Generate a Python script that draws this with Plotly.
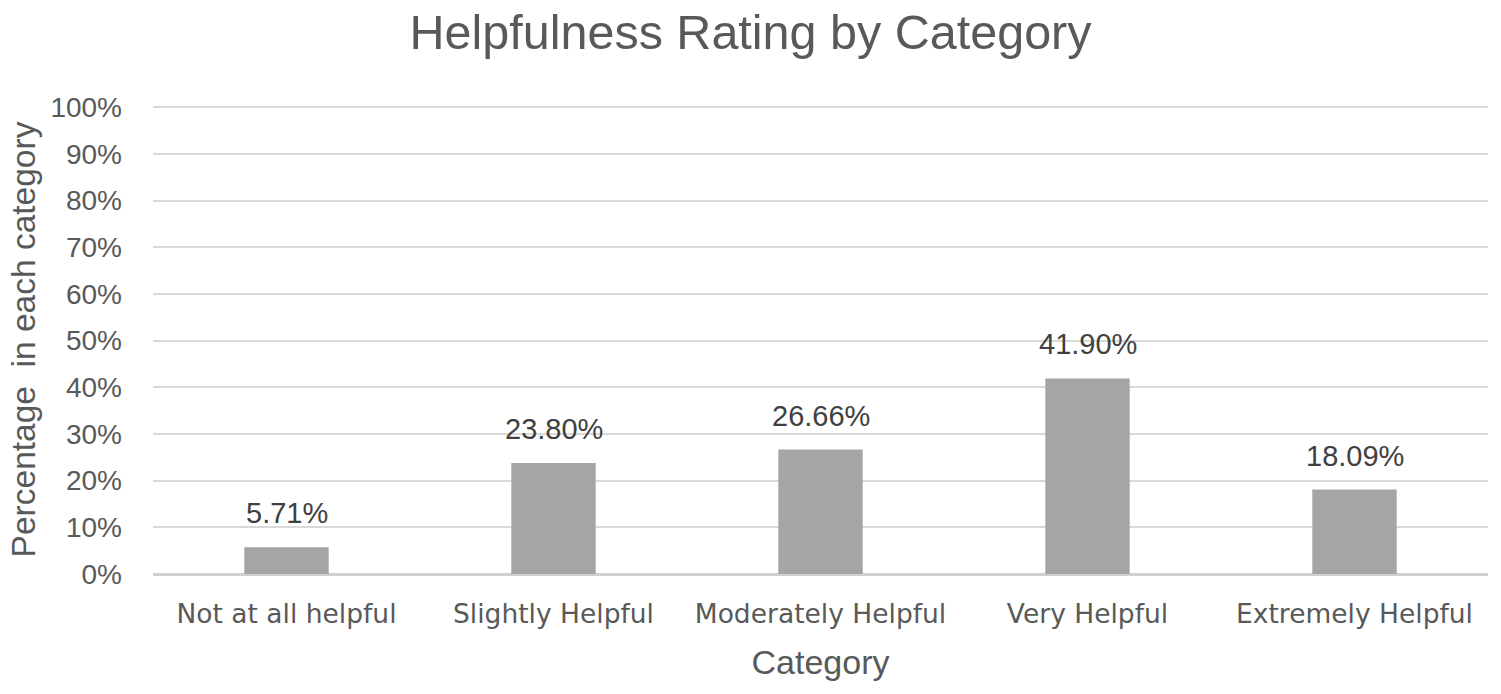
import plotly.graph_objects as go

categories = ["Not at all helpful", "Slightly Helpful", "Moderately Helpful", "Very Helpful", "Extremely Helpful"]
values = [5.71, 23.80, 26.66, 41.90, 18.09]
labels = ["5.71%", "23.80%", "26.66%", "41.90%", "18.09%"]
y_ticks = list(range(0, 101, 10))
y_tick_text = [f"{v}%" for v in y_ticks]

fig = go.Figure()
fig.add_trace(go.Bar(
    x=categories, y=values,
    marker=dict(color="#a5a5a5", line=dict(width=0)),
    hoverinfo="skip",
))

for c, v, t in zip(categories, values, labels):
    fig.add_annotation(x=c, y=v, text=t, showarrow=False, yanchor="middle", yshift=34,
                       font=dict(family="Liberation Sans", size=29, color="#404040"))

fig.update_layout(
    template="none",
    width=1501, height=694,
    paper_bgcolor="white", plot_bgcolor="white",
    margin=dict(l=153, r=13, t=105, b=120),
    bargap=0.684,
    showlegend=False,
    title=dict(text="Helpfulness Rating by Category", x=0.5, xanchor="center",
               y=1 - 32 / 694, yanchor="middle",
               font=dict(family="Liberation Sans", size=48.5, color="#595959")),
    font=dict(family="Liberation Sans", color="#595959"),
)
fig.update_yaxes(
    range=[0, 100.5], tickvals=y_ticks, ticktext=y_tick_text,
    showgrid=True, gridcolor="#d9d9d9", gridwidth=1.5,
    zeroline=True, zerolinecolor="#d0d0d0", zerolinewidth=1.5,
    showline=False, ticks="", ticklabelstandoff=30, automargin=False,
    tickfont=dict(family="Liberation Sans", size=28, color="#595959"),
    title=dict(text="Percentage  in each category",
               font=dict(family="Liberation Sans", size=33.5, color="#595959"), standoff=4),
)
fig.update_xaxes(
    showgrid=False, showline=True, linecolor="#d0d0d0", linewidth=1.5, ticks="",
    automargin=False, ticklabelstandoff=15,
    tickfont=dict(family="DejaVu Sans", size=26.5, color="#595959"),
    title=dict(text="Category", font=dict(family="Liberation Sans", size=34, color="#595959"), standoff=23),
)

fig.write_html("out.html")
